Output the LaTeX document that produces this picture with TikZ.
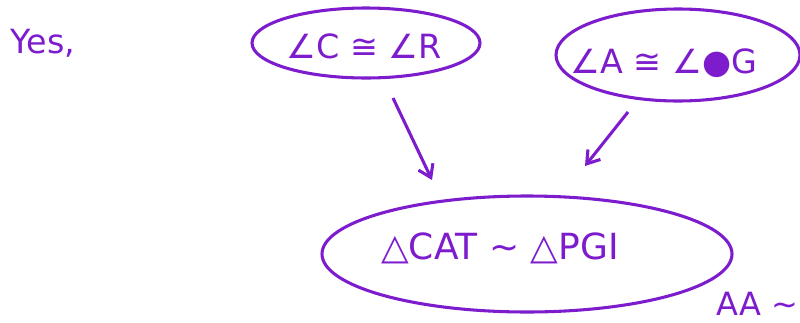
\documentclass[tikz,border=0pt]{standalone}
\usepackage{fontspec}
\setmainfont{DejaVu Sans}
\usetikzlibrary{arrows.meta,shapes.geometric}
\definecolor{pen}{RGB}{125,28,205}
\begin{document}
\begin{tikzpicture}[x=0.75pt,y=-0.75pt,
  ink/.style={draw=pen,line width=2.3pt},
  lbl/.style={text=pen,font=\fontsize{25}{30}\selectfont},
  arr/.style={ink,-{Straight Barb[length=9pt,width=12pt]}}]
\useasboundingbox (0,0) rectangle (800,322);
\node[lbl,font=\fontsize{25}{30}\selectfont,anchor=west] (yes) at (6,43) {Yes,};
\node[ink,ellipse,minimum width=171pt,minimum height=52.5pt,inner sep=0pt] (e1) at (366,43) {};
\node[lbl] (t1) at (364,46) {∠C ≅ ∠R};
\node[ink,ellipse,minimum width=183pt,minimum height=69pt,inner sep=0pt] (e2) at (678,55) {};
\node[lbl] (t2) at (664,63) {∠A ≅ ∠●G};
\node[ink,ellipse,minimum width=307.5pt,minimum height=87pt,inner sep=0pt] (e3) at (527,254) {};
\node[lbl,font=\fontsize{27}{32}\selectfont] (t3) at (500,248) {△CAT ∼ △PGI};
\node[lbl,font=\fontsize{24}{28}\selectfont,anchor=west] (aa) at (712,304) {AA ∼};
\draw[arr] (393,98) -- (432,180);
\draw[arr] (628,112) -- (585,166);
\end{tikzpicture}
\end{document}
